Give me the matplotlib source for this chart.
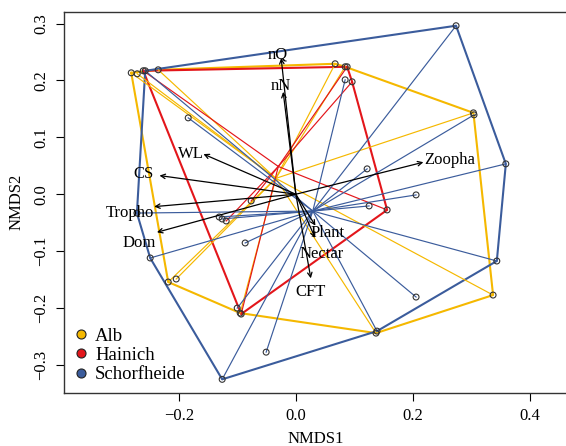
"""NMDS ordination of sites with group hulls, spiders and fitted vectors"""

import matplotlib

matplotlib.use("Agg")
import matplotlib.pyplot as plt
import numpy as np
from matplotlib.lines import Line2D

plt.rcParams["font.family"] = ["Liberation Serif", "DejaVu Serif"]

# Site scores per region (NMDS1, NMDS2)
alb_x = [-0.2815, -0.2713, -0.2354, 0.0672, 0.0843, 0.3037, 0.3373, 0.1371, -0.0952, -0.2183, -0.2046]
alb_y = [0.2135, 0.2118, 0.2188, 0.2294, 0.2241, 0.1431, -0.1773, -0.2442, -0.2090, -0.1544, -0.1491]

hai_x = [-0.2610, 0.0877, 0.0962, 0.1561, -0.0935, -0.1191, -0.0764]
hai_y = [0.2171, 0.2241, 0.1977, -0.0276, -0.2107, -0.0470, -0.0118]

sch_x = [-0.2576, 0.2740, 0.3591, 0.3437, 0.1388, -0.1260, -0.2491, -0.2718,
         -0.1841, 0.0843, 0.1219, 0.2056, 0.1253, 0.2056, -0.0508, -0.0867, -0.1311, -0.1260,
         0.3047, -0.1003]
sch_y = [0.2171, 0.2963, 0.0534, -0.1174, -0.2407, -0.3255, -0.1121, -0.0331,
         0.1343, 0.2012, 0.0446, -0.0012, -0.0206, -0.1808, -0.2777, -0.0857, -0.0400, -0.0435,
         0.1396, -0.2002]

regions = ["Alb", "Hainich", "Schorfheide"]
region_colors = ["#F5B800", "#E3161B", "#3B5C9C"]

# Fitted environmental vectors (arrow tips)
vec_names = ["nQ", "nN", "WL", "CS", "Tropho", "Dom", "Zoopha", "Plant", "Nectar", "CFT"]
vec_x = [-0.0251, -0.0217, -0.1580, -0.2332, -0.2422, -0.2376, 0.2181, 0.0335, 0.0330, 0.0256]
vec_y = [0.2394, 0.1800, 0.0706, 0.0328, -0.0218, -0.0669, 0.0563, -0.0553, -0.0768, -0.1479]
# label offsets from arrow tip, in pixels
vec_offsets = [(-3, 4), (-2, 6), (-13, 0), (-16, 2), (-24, -6), (-18, -11),
               (26, 2), (12, -7), (6, -16), (0, -14)]


def convex_hull(xs, ys):
    """Monotone chain convex hull, returns closed ring of points."""
    pts = sorted(set(zip(xs, ys)))

    def cross(o, a, b):
        return (a[0] - o[0]) * (b[1] - o[1]) - (a[1] - o[1]) * (b[0] - o[0])

    lower, upper = [], []
    for p in pts:
        while len(lower) >= 2 and cross(lower[-2], lower[-1], p) <= 0:
            lower.pop()
        lower.append(p)
    for p in reversed(pts):
        while len(upper) >= 2 and cross(upper[-2], upper[-1], p) <= 0:
            upper.pop()
        upper.append(p)
    ring = lower[:-1] + upper[:-1]
    ring.append(ring[0])
    return np.array(ring)


fig = plt.figure(figsize=(5.66, 4.46), dpi=100)
ax = fig.add_axes([0.1136, 0.1195, 0.890, 0.8543])

groups = [(alb_x, alb_y), (hai_x, hai_y), (sch_x, sch_y)]

# Hulls
for (gx, gy), col in zip(groups, region_colors):
    ring = convex_hull(gx, gy)
    ax.plot(ring[:, 0], ring[:, 1], color=col, lw=1.5, zorder=2)

# Spiders to group centroid
for (gx, gy), col in zip(groups, region_colors):
    cx, cy = np.mean(gx), np.mean(gy)
    for px, py in zip(gx, gy):
        ax.plot([cx, px], [cy, py], color=col, lw=0.85, zorder=2)

# Site points
for gx, gy in groups:
    ax.scatter(gx, gy, s=18, facecolors="none", edgecolors="#333333", linewidths=0.8, zorder=4)

# Environmental vectors
for name, vx, vy, off in zip(vec_names, vec_x, vec_y, vec_offsets):
    ax.annotate("", xy=(vx, vy), xytext=(0, 0),
                arrowprops=dict(arrowstyle="->", color="black", lw=0.9,
                                mutation_scale=8, shrinkA=0, shrinkB=0), zorder=5)
    ax.annotate(name, xy=(vx, vy), xytext=off, textcoords="offset pixels",
                ha="center", va="center", fontsize=12, zorder=6)

ax.set_xlim(-0.396, 0.4655)
ax.set_ylim(-0.349, 0.321)
ax.set_xticks([-0.2, 0.0, 0.2, 0.4])
ax.set_yticks([-0.3, -0.2, -0.1, 0.0, 0.1, 0.2, 0.3])
ax.set_xticklabels(["\u22120.2", "0.0", "0.2", "0.4"])
ax.set_yticklabels(["\u22120.3", "\u22120.2", "\u22120.1", "0.0", "0.1", "0.2", "0.3"],
                   rotation=90, va="center")
ax.tick_params(direction="out", length=6, width=0.8, labelsize=12, pad=5)
for s in ax.spines.values():
    s.set_linewidth(1.0)
    s.set_color("#333333")
ax.set_xlabel("NMDS1", fontsize=12, labelpad=5)
ax.set_ylabel("NMDS2", fontsize=12, labelpad=6)

# Legend
handles = [Line2D([], [], marker="o", linestyle="none", markerfacecolor=c,
                  markeredgecolor="#222222", markersize=6.5, markeredgewidth=0.8)
           for c in region_colors]
ax.legend(handles, regions, loc="lower left", frameon=False, fontsize=13.5,
          handlelength=0.8, handletextpad=0.35, labelspacing=0.12,
          borderaxespad=0.1, borderpad=0.4)

fig.savefig("out.png", dpi=100)
